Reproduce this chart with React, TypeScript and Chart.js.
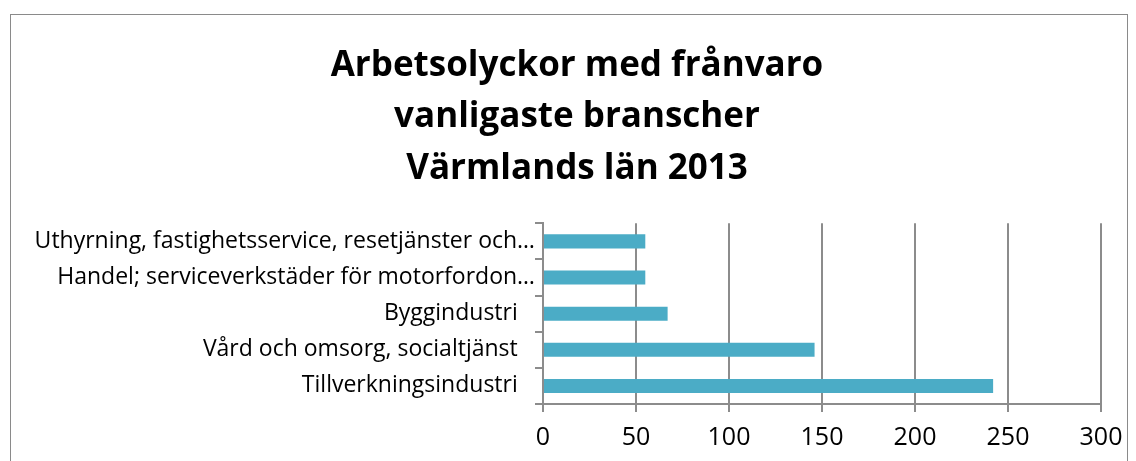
import React, { useEffect, useRef } from "react";
import { Chart, registerables } from "chart.js";

Chart.register(...registerables);

const titleLines = ["Arbetsolyckor med frånvaro", "vanligaste branscher", "Värmlands län 2013"];
const categories = [
  "Uthyrning, fastighetsservice, resetjänster och…",
  "Handel; serviceverkstäder för motorfordon…",
  "Byggindustri",
  "Vård och omsorg, socialtjänst",
  "Tillverkningsindustri",
];
const values = [55, 55, 67, 146, 242];
const xMin = 0;
const xMax = 300;
const xStep = 50;

const FONT = "'Open Sans', 'DejaVu Sans', sans-serif";
const GRID = "#8c8c8c";

const shiftTitle = {
  id: "shiftTitle",
  afterLayout(chart: any) {
    const t = chart.titleBlock;
    if (t) {
      t.left += 21;
      t.right += 21;
    }
  },
};

export default function App() {
  const ref = useRef<HTMLCanvasElement | null>(null);

  useEffect(() => {
    if (!ref.current) return;
    const chart = new Chart(ref.current, {
      type: "bar",
      data: {
        labels: categories,
        datasets: [
          {
            data: values,
            backgroundColor: "#4BACC6",
            borderWidth: 0,
            categoryPercentage: 1,
            barPercentage: 0.39,
          },
        ],
      },
      plugins: [shiftTitle],
      options: {
        indexAxis: "y",
        responsive: false,
        animation: false,
        layout: { padding: { left: 0, right: 26, top: 0, bottom: 0 } },
        plugins: {
          legend: { display: false },
          tooltip: { enabled: false },
          title: {
            display: true,
            text: titleLines,
            color: "#000",
            font: { family: FONT, size: 35, weight: "bold", lineHeight: 1.47 },
            padding: { top: 25, bottom: 29 },
          },
        },
        scales: {
          x: {
            min: xMin,
            max: xMax,
            ticks: {
              stepSize: xStep,
              color: "#000",
              font: { family: FONT, size: 25 },
              padding: 11,
            },
            grid: {
              color: GRID,
              lineWidth: 2,
              tickLength: 8,
              tickColor: GRID,
            },
            border: { color: GRID, width: 2 },
            afterFit: (s: any) => {
              s.height = 57;
              s.paddingLeft = 0;
              s.paddingRight = 0;
            },
          },
          y: {
            ticks: {
              color: "#000",
              font: { family: FONT, size: 23 },
              padding: 0,
              callback: function (this: any, v: any) {
                const l = this.getLabelForValue(v) as string;
                return l.endsWith("…") ? l : l + "\u2002\u2005";
              },
            },
            grid: {
              drawOnChartArea: false,
              color: GRID,
              lineWidth: 2,
              tickLength: 8,
              tickColor: GRID,
            },
            border: { color: GRID, width: 2 },
            afterFit: (s: any) => {
              s.width = 532;
            },
          },
        },
      },
    });
    return () => chart.destroy();
  }, []);

  return (
    <div
      style={{
        marginLeft: 2,
        marginTop: 6,
        width: 1116,
        height: 446,
        border: "1px solid #8a8a8a",
        background: "#fff",
      }}
    >
      <canvas ref={ref} width={1116} height={446} style={{ display: "block" }} />
    </div>
  );
}
